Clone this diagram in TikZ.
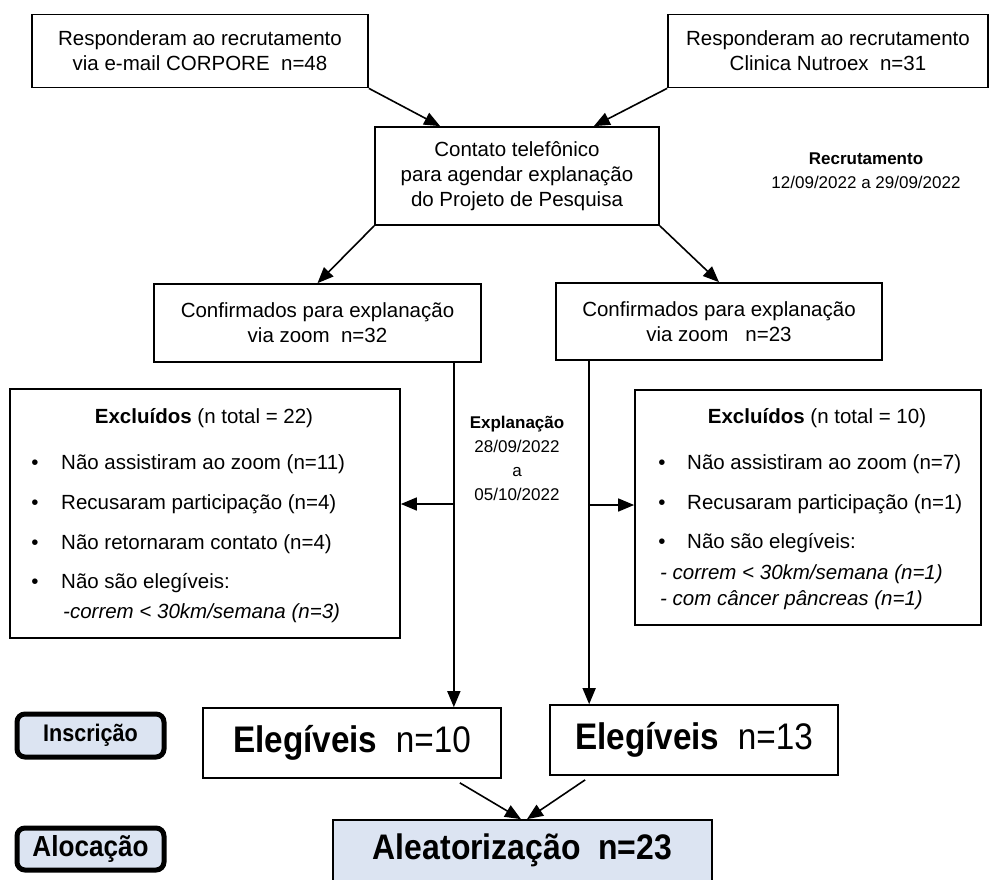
\documentclass[tikz,border=0pt]{standalone}
\usepackage{fontspec}
\setmainfont{Liberation Sans}
\newfontfamily\condfont[FakeStretch=0.9]{Liberation Sans}
\usetikzlibrary{arrows.meta,calc}
\definecolor{lblue}{RGB}{220,228,242}
\begin{document}
\begin{tikzpicture}[x=1pt,y=-1pt,
  box/.style={draw,line width=1.7pt,inner sep=0pt,align=center,font=\fontsize{20.5}{25}\selectfont},
  labelbox/.style={draw,line width=5pt,rounded corners=8pt,fill=lblue,inner sep=0pt,minimum width=147pt},
  txt/.style={inner sep=0pt,font=\fontsize{20.5}{25}\selectfont},
  smalltxt/.style={inner sep=0pt,align=center,font=\fontsize{17}{24}\selectfont},
  arr/.style={line width=1.6pt,-{Triangle[length=16pt,width=13pt]}}]
\useasboundingbox (0,0) rectangle (991,879);
\clip (0,0) rectangle (991,879);

% top boxes
\node[box,minimum width=336pt,minimum height=73pt] (A) at (200,51) {Responderam ao recrutamento\\via e-mail CORPORE\ \ n=48};
\node[box,minimum width=320pt,minimum height=73pt] (B) at (828,51) {Responderam ao recrutamento\\Clinica Nutroex\ \ n=31};
\node[box,minimum width=284pt,minimum height=98pt] (C) at (517,176) {Contato telefônico\\para agendar explanação\\do Projeto de Pesquisa};
\node[smalltxt] (rec) at (866,171) {\textbf{Recrutamento}\\12/09/2022 a 29/09/2022};

% confirmados
\node[box,minimum width=327pt,minimum height=78pt] (D) at (317.5,323) {Confirmados para explanação\\via zoom\ \ n=32};
\node[box,minimum width=326pt,minimum height=77pt] (E) at (719,321.5) {Confirmados para explanação\\via zoom\ \ \ n=23};

% explanacao
\node[smalltxt] (expl) at (517,458) {\textbf{Explanação}\\28/09/2022\\a\\05/10/2022};

% excluded boxes
\node[draw,line width=1.7pt,minimum width=390pt,minimum height=249pt,inner sep=0pt] (F) at (205,513.5) {};
\node[draw,line width=1.7pt,minimum width=346pt,minimum height=235pt,inner sep=0pt] (G) at (808,507.5) {};

\node[txt,anchor=base] (Ft) at (204,423) {\textbf{Excluídos} (n total = 22)};
\node[txt,anchor=base] (Fb1) at (35,469) {•};
\node[txt,anchor=base] (Fb2) at (35,509) {•};
\node[txt,anchor=base] (Fb3) at (35,549) {•};
\node[txt,anchor=base] (Fb4) at (35,588) {•};
\node[txt,anchor=base west] (Fl1) at (61,469) {Não assistiram ao zoom (n=11)};
\node[txt,anchor=base west] (Fl2) at (61,509) {Recusaram participação (n=4)};
\node[txt,anchor=base west] (Fl3) at (61,549) {Não retornaram contato (n=4)};
\node[txt,anchor=base west] (Fl4) at (61,588) {Não são elegíveis:};
\node[txt,anchor=base west] (Fl5) at (63,618) {\itshape -correm < 30km/semana (n=3)};

\node[txt,anchor=base] (Gt) at (817,423) {\textbf{Excluídos} (n total = 10)};
\node[txt,anchor=base] (Gb1) at (662,469) {•};
\node[txt,anchor=base] (Gb2) at (662,509) {•};
\node[txt,anchor=base] (Gb3) at (662,548) {•};
\node[txt,anchor=base west] (Gl1) at (687,469) {Não assistiram ao zoom (n=7)};
\node[txt,anchor=base west] (Gl2) at (687,509) {Recusaram participação (n=1)};
\node[txt,anchor=base west] (Gl3) at (687,548) {Não são elegíveis:};
\node[txt,anchor=base west] (Gl4) at (660,579) {\itshape - correm < 30km/semana (n=1)};
\node[txt,anchor=base west] (Gl5) at (660,605) {\itshape - com câncer pâncreas (n=1)};

% eligible
\node[box,minimum width=298pt,minimum height=70pt,font=\condfont\fontsize{37}{40}\selectfont] (E10) at (352,743) {\textbf{Elegíveis}\ \ n=10};
\node[box,minimum width=288pt,minimum height=70pt,font=\condfont\fontsize{37}{40}\selectfont] (E13) at (694,740) {\textbf{Elegíveis}\ \ n=13};

% labels
\node[labelbox,minimum height=43pt,font=\condfont\bfseries\fontsize{24}{26}\selectfont] (ins) at (90.5,735.5) {Inscrição};
\node[labelbox,minimum height=42pt,font=\condfont\bfseries\fontsize{29}{30}\selectfont] (aloc) at (90.5,849) {Alocação};

% aleatorizacao
\node[box,fill=lblue,minimum width=379pt,minimum height=66pt] (Al) at (522.5,853) {};
\node[inner sep=0pt,font=\condfont\bfseries\fontsize{35.5}{38}\selectfont] (Alt) at (522.5,850) {Aleatorização\ \ n=23};

% arrows
\draw[arr] (A.south east) -- ($(C.north west)+(66,0)$);
\draw[arr] (B.south west) -- ($(C.north east)+(-66,0)$);
\draw[arr] (C.south west) -- (D.north);
\draw[arr] (C.south east) -- (E.north);

\coordinate (dl) at ($(D.south east)+(-28,0)$);
\coordinate (fl) at ($(F.east)+(0,-9.5)$);
\draw[arr] (dl) -- (dl |- E10.north);
\draw[arr] (dl |- fl) -- (fl);

\coordinate (dr) at ($(E.south west)+(34,0)$);
\coordinate (gl) at ($(G.west)+(0,-2.5)$);
\draw[arr] (dr) -- (dr |- E13.north);
\draw[arr] (dr |- gl) -- (gl);

\draw[arr] ($(E10.south east)+(-42,4)$) -- ($(Al.north)+(-1.5,0)$);
\draw[arr] ($(E13.south west)+(36,4)$) -- ($(Al.north)+(4.5,0)$);
\end{tikzpicture}
\end{document}
